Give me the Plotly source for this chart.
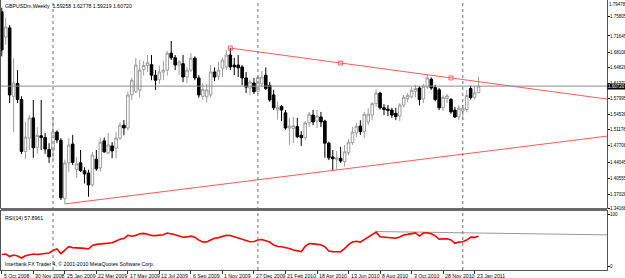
import numpy as np
import pandas as pd
import plotly.graph_objects as go

# ---------------- data ----------------
symbol = "GBPUSDm,Weekly"
start_date = "2008-10-05"

opens = [1.7690, 1.7140, 1.7340, 1.5850, 1.6130, 1.5780, 1.4650, 1.4940, 1.5380, 1.4730,
         1.4990, 1.4950, 1.4690, 1.4680, 1.5070, 1.4890, 1.3620, 1.4400, 1.4810, 1.4250,
         1.4400, 1.4230, 1.4180, 1.3920, 1.4480, 1.4290, 1.4880, 1.4620, 1.4770, 1.4720,
         1.4940, 1.5220, 1.5160, 1.5880, 1.5950, 1.5990, 1.6430, 1.6520, 1.6540, 1.6310,
         1.6210, 1.6380, 1.6420, 1.6790, 1.6690, 1.6530, 1.6560, 1.6270, 1.6420, 1.6680,
         1.6250, 1.5850, 1.5840, 1.5880, 1.6380, 1.6290, 1.6460, 1.6490, 1.6750, 1.6530,
         1.6530, 1.6490, 1.6250, 1.6030, 1.6140, 1.5960, 1.6120, 1.6310, 1.6090, 1.5880,
         1.5550, 1.5630, 1.5490, 1.5160, 1.5150, 1.5190, 1.5000, 1.4950, 1.5270, 1.5440,
         1.5310, 1.5400, 1.5310, 1.4830, 1.4530, 1.4470, 1.4500, 1.4430, 1.4620, 1.4840,
         1.5050, 1.5200, 1.5080, 1.5290, 1.5440, 1.5690, 1.5920, 1.5600, 1.5570, 1.5550,
         1.5480, 1.5420, 1.5660, 1.5800, 1.5840, 1.5960, 1.6030, 1.5790, 1.6050, 1.6220,
         1.6040, 1.5990, 1.5600, 1.5800, 1.5780, 1.5550, 1.5400, 1.5530, 1.5560, 1.6020,
         1.5830, 1.59258]
highs = [1.7780, 1.7560, 1.7400, 1.6680, 1.6420, 1.5850, 1.5290, 1.5440, 1.5770, 1.5180,
         1.5770, 1.5050, 1.4830, 1.5400, 1.5110, 1.4940, 1.4470, 1.4940, 1.5010, 1.4530,
         1.4680, 1.4300, 1.4250, 1.4640, 1.4680, 1.4950, 1.4950, 1.5050, 1.4850, 1.5070,
         1.5290, 1.5330, 1.5950, 1.6260, 1.6680, 1.6640, 1.6620, 1.6750, 1.6750, 1.6420,
         1.6520, 1.6620, 1.6840, 1.7055, 1.6750, 1.6640, 1.6750, 1.6490, 1.6790, 1.6720,
         1.6310, 1.6140, 1.6120, 1.6530, 1.6480, 1.6600, 1.6700, 1.6860, 1.6900, 1.6690,
         1.6750, 1.6530, 1.6380, 1.6210, 1.6250, 1.6300, 1.6400, 1.6480, 1.6160, 1.5990,
         1.5740, 1.5660, 1.5550, 1.5380, 1.5400, 1.5380, 1.5090, 1.5310, 1.5510, 1.5550,
         1.5550, 1.5510, 1.5340, 1.4860, 1.4680, 1.4660, 1.4750, 1.4790, 1.4920, 1.5180,
         1.5270, 1.5330, 1.5510, 1.5590, 1.5720, 1.6000, 1.5950, 1.5680, 1.5660, 1.5600,
         1.5600, 1.5700, 1.5880, 1.5920, 1.6050, 1.6100, 1.6070, 1.6120, 1.6310, 1.6260,
         1.6100, 1.6030, 1.5880, 1.5900, 1.5810, 1.5620, 1.5660, 1.5660, 1.5990, 1.6080,
         1.6080, 1.62778]
lows = [1.6720, 1.6970, 1.5700, 1.5070, 1.5700, 1.4590, 1.4480, 1.4680, 1.4510, 1.4600,
        1.4680, 1.4600, 1.4400, 1.4460, 1.4830, 1.3590, 1.3505, 1.4200, 1.4350, 1.4070,
        1.4200, 1.3950, 1.3660, 1.3880, 1.4230, 1.4210, 1.4620, 1.4590, 1.4500, 1.4500,
        1.4900, 1.5000, 1.5110, 1.5770, 1.5920, 1.5820, 1.6300, 1.6380, 1.6200, 1.5990,
        1.6120, 1.6200, 1.6300, 1.6640, 1.6420, 1.6310, 1.6160, 1.6130, 1.6380, 1.6200,
        1.5820, 1.5770, 1.5720, 1.5830, 1.6180, 1.6200, 1.6270, 1.6420, 1.6420, 1.6310,
        1.6270, 1.6090, 1.5920, 1.5880, 1.5900, 1.5900, 1.6050, 1.5990, 1.5730, 1.5550,
        1.5340, 1.5310, 1.5120, 1.4790, 1.4830, 1.4940, 1.4770, 1.4900, 1.5180, 1.5220,
        1.5160, 1.5180, 1.4510, 1.4460, 1.4235, 1.4250, 1.4400, 1.4320, 1.4570, 1.4790,
        1.4960, 1.5010, 1.4940, 1.5220, 1.5330, 1.5620, 1.5560, 1.5440, 1.5420, 1.5380,
        1.5330, 1.5310, 1.5610, 1.5720, 1.5810, 1.5830, 1.5650, 1.5700, 1.6010, 1.5990,
        1.5740, 1.5550, 1.5530, 1.5700, 1.5470, 1.5380, 1.5330, 1.5330, 1.5500, 1.5780,
        1.5780, 1.59219]
closes = [1.6860, 1.7360, 1.5880, 1.6140, 1.5780, 1.4650, 1.4960, 1.5380, 1.4730, 1.5000,
          1.4950, 1.4700, 1.4530, 1.5070, 1.4900, 1.3640, 1.4400, 1.4790, 1.4410, 1.4380,
          1.4230, 1.4160, 1.3920, 1.4570, 1.4270, 1.4850, 1.4640, 1.4790, 1.4660, 1.4940,
          1.5220, 1.5160, 1.5880, 1.6200, 1.6530, 1.6420, 1.6520, 1.6580, 1.6310, 1.6200,
          1.6380, 1.6420, 1.6790, 1.6690, 1.6530, 1.6600, 1.6270, 1.6420, 1.6680, 1.6250,
          1.5880, 1.6000, 1.5990, 1.6380, 1.6270, 1.6420, 1.6640, 1.6750, 1.6490, 1.6490,
          1.6470, 1.6250, 1.6050, 1.6160, 1.5950, 1.6260, 1.6270, 1.6020, 1.5770, 1.5600,
          1.5610, 1.5550, 1.5160, 1.5200, 1.5210, 1.4970, 1.4950, 1.5270, 1.5460, 1.5290,
          1.5420, 1.5290, 1.4830, 1.4510, 1.4490, 1.4510, 1.4440, 1.4640, 1.4850, 1.5070,
          1.5200, 1.5080, 1.5460, 1.5460, 1.5690, 1.5920, 1.5600, 1.5560, 1.5540, 1.5440,
          1.5410, 1.5660, 1.5830, 1.5870, 1.5980, 1.6020, 1.5780, 1.6070, 1.6250, 1.6030,
          1.5780, 1.5600, 1.5830, 1.5860, 1.5510, 1.5400, 1.5590, 1.5590, 1.5870, 1.5820,
          1.5926, 1.60720]

rsi = [23.4, 24.4, 19.6, 22.5, 20.6, 16.8, 21.1, 22.1, 24.4, 23.4,
       24.4, 26.3, 26.3, 31.0, 33.9, 25.3, 31.0, 38.2, 36.5, 36.3,
       36.1, 35.0, 33.9, 40.5, 42.6, 43.2, 44.1, 44.9, 45.6, 49.0,
       52.5, 53.8, 59.9, 58.2, 59.7, 62.7, 63.5, 61.9, 59.5, 59.3,
       60.4, 61.0, 64.2, 62.9, 60.8, 58.5, 56.3, 56.8, 58.2, 56.3,
       50.6, 47.1, 47.3, 50.9, 54.4, 55.5, 58.5, 60.0, 59.3, 56.8,
       55.3, 52.8, 49.8, 47.7, 48.1, 50.8, 51.9, 50.0, 47.1, 41.3,
       38.6, 38.2, 36.7, 34.8, 32.0, 30.4, 28.9, 38.8, 44.3, 43.5,
       42.8, 41.8, 38.2, 30.1, 28.9, 28.7, 28.7, 34.6, 42.2, 47.0,
       48.5, 47.0, 51.5, 56.6, 61.2, 65.9, 57.2, 56.3, 56.1, 55.3,
       54.4, 56.6, 60.4, 61.6, 63.1, 64.4, 58.5, 64.2, 64.6, 62.7,
       58.9, 52.3, 53.0, 53.4, 51.1, 44.7, 47.0, 47.7, 50.9, 56.3,
       55.9, 57.8961]

price_ticks = [1.79478, 1.75805, 1.71645, 1.68108, 1.64828, 1.61272, 1.57995,
               1.54538, 1.51178, 1.47708, 1.44045, 1.40555, 1.37028, 1.34168]
rsi_ticks = [0, 100]
date_labels = ["5 Oct 2008", "30 Nov 2008", "25 Jan 2009", "22 Mar 2009", "17 May 2009",
               "12 Jul 2009", "6 Sep 2009", "1 Nov 2009", "27 Dec 2009", "21 Feb 2010",
               "18 Apr 2010", "13 Jun 2010", "8 Aug 2010", "3 Oct 2010", "28 Nov 2010",
               "23 Jan 2011"]

upper_trend_bars = [58, 114]
upper_trend_prices = [1.6900, 1.6250]
lower_trend_bars = [16, 84]
lower_trend_prices = [1.3505, 1.4235]
rsi_trend_bars = [95, 121]
rsi_trend_values = [67.0, 64.2]

copyright_text = "Interbank FX Trader 4, \u00a9 2001-2010 MetaQuotes Software Corp."

# ---------------- derived ----------------
n = len(closes)
bars = np.arange(n)
start = pd.Timestamp(start_date)
dates = pd.date_range(start, periods=n, freq="7D")
label_bars = [int((pd.to_datetime(s, format="%d %b %Y") - start).days // 7) for s in date_labels]
year_start_bars = [i for i in range(1, n) if dates[i].year != dates[i - 1].year]

X_MIN, X_MAX = -0.2, 153.6


def ray(b, v, x_end):
    slope = (v[1] - v[0]) / (b[1] - b[0])
    return [b[0], x_end], [v[0], v[0] + slope * (x_end - b[0])]


W, H = 625, 278
M_T, M_B, M_L, M_R = 0, 8, 1, 18
plot_h = H - M_T - M_B
main_bottom_px = 208
rsi_top_px = 211
main_dom = [(plot_h - main_bottom_px) / plot_h, 1.0]
rsi_dom = [0.0, (plot_h - rsi_top_px) / plot_h]

FONT = "Liberation Sans, Arial, sans-serif"
fs = 5.2
fs_axis = 4.5
TREND = "#ff5a5a"

fig = go.Figure()

fig.add_trace(go.Candlestick(
    x=bars, open=opens, high=highs, low=lows, close=closes,
    increasing=dict(line=dict(color="#9c9c9c", width=1), fillcolor="white"),
    decreasing=dict(line=dict(color="black", width=1), fillcolor="black"),
    whiskerwidth=0, hoverinfo="skip", showlegend=False, xaxis="x", yaxis="y"))

ux, uy = ray(upper_trend_bars, upper_trend_prices, X_MAX)
fig.add_trace(go.Scatter(x=ux, y=uy, mode="lines", line=dict(color=TREND, width=1),
                         showlegend=False, hoverinfo="skip", xaxis="x", yaxis="y"))
mid_b = (upper_trend_bars[0] + upper_trend_bars[1]) / 2
mid_p = (upper_trend_prices[0] + upper_trend_prices[1]) / 2
fig.add_trace(go.Scatter(x=[upper_trend_bars[0], mid_b, upper_trend_bars[1]],
                         y=[upper_trend_prices[0], mid_p, upper_trend_prices[1]],
                         mode="markers",
                         marker=dict(symbol="square-open", size=4, color=TREND, line=dict(width=1)),
                         showlegend=False, hoverinfo="skip", xaxis="x", yaxis="y"))

lx, ly = ray(lower_trend_bars, lower_trend_prices, X_MAX)
fig.add_trace(go.Scatter(x=lx, y=ly, mode="lines", line=dict(color=TREND, width=1),
                         showlegend=False, hoverinfo="skip", xaxis="x", yaxis="y"))

rx, ry = ray(rsi_trend_bars, rsi_trend_values, X_MAX)
fig.add_trace(go.Scatter(x=rx, y=ry, mode="lines", line=dict(color="#9a9a9a", width=1),
                         showlegend=False, hoverinfo="skip", xaxis="x2", yaxis="y2"))
fig.add_trace(go.Scatter(x=bars, y=rsi, mode="lines", line=dict(color="#ff0000", width=1.6),
                         showlegend=False, hoverinfo="skip", xaxis="x2", yaxis="y2"))

shapes = []
shapes.append(dict(type="rect", xref="paper", yref="paper", x0=0, x1=1,
                   y0=rsi_dom[1], y1=main_dom[0], fillcolor="#6a6a6a", line=dict(width=0)))
shapes.append(dict(type="line", xref="paper", yref="y", x0=0, x1=1,
                   y0=closes[-1], y1=closes[-1], line=dict(color="#8c8c8c", width=1)))
for b in year_start_bars:
    shapes.append(dict(type="line", xref="x", yref="paper", x0=b, x1=b, y0=0, y1=1,
                       line=dict(color="#707070", width=1, dash="dot")))

ann = []
ann.append(dict(xref="paper", yref="paper", x=0, y=1, xanchor="left", yanchor="top",
                xshift=2, yshift=-1, showarrow=False,
                text=f"{symbol}  {opens[-1]:.5f} {highs[-1]:.5f} {lows[-1]:.5f} {closes[-1]:.5f}",
                font=dict(family=FONT, size=fs, color="black")))
ann.append(dict(xref="paper", yref="paper", x=0, y=rsi_dom[1], xanchor="left", yanchor="top",
                xshift=2, yshift=-2, showarrow=False,
                text=f"RSI(14) {rsi[-1]:.4f}", font=dict(family=FONT, size=fs, color="black")))
ann.append(dict(xref="paper", yref="paper", x=0, y=0, xanchor="left", yanchor="bottom",
                xshift=2, yshift=1, showarrow=False, text=copyright_text,
                font=dict(family=FONT, size=fs, color="black")))
ann.append(dict(xref="paper", yref="y", x=1, y=price_ticks[0], xanchor="left", yanchor="top",
                xshift=0, showarrow=False, text=f"{price_ticks[0]:.5f}",
                font=dict(family=FONT, size=fs_axis, color="black")))
ann.append(dict(xref="paper", yref="y", x=1, y=closes[-1], xanchor="left", yanchor="middle",
                xshift=0, showarrow=False, text=f"{closes[-1]:.5f}", bgcolor="black",
                borderpad=0, font=dict(family=FONT, size=fs_axis, color="white")))
for b, s in zip(label_bars, date_labels):
    ann.append(dict(xref="x2", yref="paper", x=b, y=0, xanchor="left", yanchor="top",
                    xshift=0, yshift=-1, showarrow=False, text=s,
                    font=dict(family=FONT, size=fs, color="black")))

axis_common = dict(showgrid=False, zeroline=False, automargin=False, fixedrange=True)
fig.update_layout(
    template="none",
    width=W, height=H,
    margin=dict(l=M_L, r=M_R, t=M_T, b=M_B, pad=0),
    paper_bgcolor="white", plot_bgcolor="white",
    showlegend=False,
    boxgap=0.35, boxgroupgap=0,
    xaxis=dict(domain=[0, 1], anchor="y", range=[X_MIN, X_MAX], showticklabels=False,
               ticks="", showline=True, mirror=True, linecolor="#7a7a7a", linewidth=1,
               rangeslider=dict(visible=False), **axis_common),
    yaxis=dict(domain=main_dom, anchor="x", side="right",
               range=[price_ticks[-1], price_ticks[0]],
               tickvals=price_ticks[1:], ticktext=[f"{v:.5f}" for v in price_ticks[1:]],
               ticks="outside", ticklen=2, tickcolor="black", tickwidth=1,
               ticklabelstandoff=-1,
               tickfont=dict(family=FONT, size=fs_axis, color="black"),
               showline=True, mirror=True, linecolor="#555555", linewidth=1, **axis_common),
    xaxis2=dict(domain=[0, 1], anchor="y2", matches="x", range=[X_MIN, X_MAX],
                showticklabels=False, tickvals=label_bars, ticks="outside", ticklen=3,
                tickcolor="#333333", showline=True, mirror=True, linecolor="#555555",
                linewidth=1, **axis_common),
    yaxis2=dict(domain=rsi_dom, anchor="x2", side="right", range=[-6, 106],
                tickvals=rsi_ticks, ticktext=[str(v) for v in rsi_ticks],
                ticks="outside", ticklen=2, tickcolor="black", ticklabelstandoff=-1,
                tickfont=dict(family=FONT, size=fs_axis, color="black"),
                showline=True, mirror=True, linecolor="#555555", linewidth=1, **axis_common),
    shapes=shapes,
    annotations=ann,
)

fig.write_html("out.html")
